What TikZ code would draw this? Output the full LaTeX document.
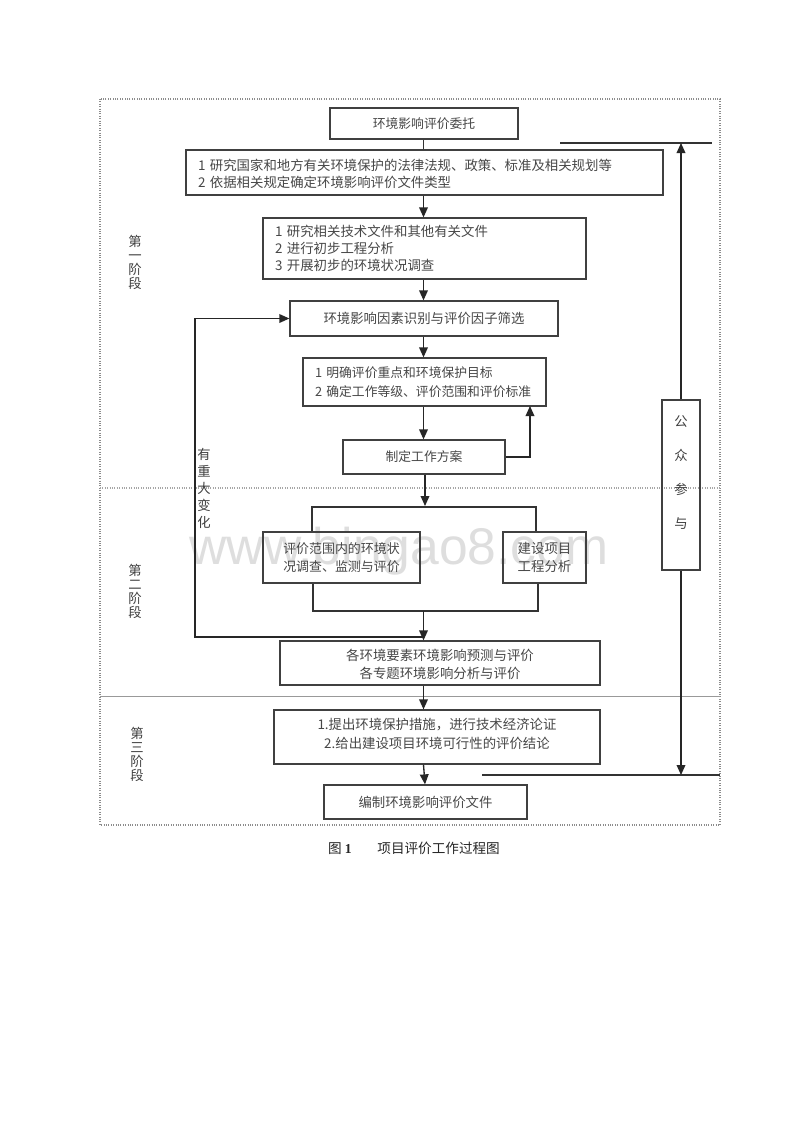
\documentclass[tikz,border=0pt]{standalone}
\usepackage{fontspec}
\setmainfont{Noto Sans CJK SC}
\newfontfamily\wmfont{Liberation Sans}
\newfontfamily\capfont{Liberation Serif}
\usetikzlibrary{arrows.meta,calc}
\newcommand{\dnstrut}[1]{\rule{0pt}{#1}}
\newcommand{\upstrut}[1]{\rule[-#1]{0pt}{#1}}
\tikzset{
  ink/.style={draw=black!75,line width=0.95pt},
  bx/.style={ink,fill=none,inner sep=0pt,align=center,text=black!72,font=\fontsize{10.05}{12.75}\selectfont},
  lbx/.style={bx,align=left,inner xsep=9pt},
  arr/.style={draw=black!85,line width=1pt,-{Triangle[length=7.5pt,width=6.5pt]}},
  lin/.style={draw=black!80,line width=1pt},
  frame/.style={draw=black!45,line width=0.8pt,densely dotted},
  vtext/.style={align=center,text=black!75,inner sep=0pt,font=\fontsize{10}{10.5}\selectfont},
}
\begin{document}
\begin{tikzpicture}[x=0.75pt,y=-0.75pt]
\useasboundingbox (0,0) rectangle (800,1132);
\fill[white] (0,0) rectangle (800,1132);
% watermark
\node[text=black!13,font=\wmfont\fontsize{38.7}{40}\selectfont,inner sep=0pt] (wm) at (399,551) {www.bingao8.com};
% frame
\coordinate (fTL) at (100,99); \coordinate (fBR) at (720,825);
\draw[frame] (fTL) rectangle (fBR);
\draw[frame,draw=black!35] (100,488) -- (720,488);
\draw[draw=black!40,line width=0.7pt] (100,696) -- (720,696);
% boxes
\node[bx,minimum width=141pt,minimum height=23.25pt,font=\fontsize{9.6}{12.75}\selectfont] (b1) at (424,123.5) {环境影响评价委托};
\node[lbx,text width=339.75pt,minimum height=33.75pt] (b2) at (424.5,172.5) {\dnstrut{11pt}1 研究国家和地方有关环境保护的法律法规、政策、标准及相关规划等\\2 依据相关规定确定环境影响评价文件类型};
\node[lbx,text width=224.25pt,minimum height=45.75pt,font=\fontsize{10.05}{13}\selectfont] (b3) at (424.5,248.5) {1 研究相关技术文件和其他有关文件\\2 进行初步工程分析\\3 开展初步的环境状况调查};
\node[bx,minimum width=201pt,minimum height=26.25pt] (b4) at (424,318.5) {环境影响因素识别与评价因子筛选};
\node[lbx,text width=164.25pt,minimum height=36pt,font=\fontsize{9.6}{14}\selectfont] (b5) at (424.5,382) {1 明确评价重点和环境保护目标\\2 确定工作等级、评价范围和评价标准};
\node[bx,minimum width=121.5pt,minimum height=25.5pt,font=\fontsize{9.6}{12.75}\selectfont] (b6) at (424,457) {制定工作方案};
\node[bx,minimum width=117.75pt,minimum height=38.25pt,font=\fontsize{9.7}{13.5}\selectfont] (b7) at (341.5,557.5) {评价范围内的环境状\\况调查、监测与评价};
\node[bx,minimum width=62.25pt,minimum height=38.25pt,font=\fontsize{10.05}{13.5}\selectfont] (b8) at (544.5,557.5) {建设项目\\工程分析};
\node[bx,minimum width=240pt,minimum height=33pt,font=\fontsize{10.05}{13.5}\selectfont] (b9) at (440,663) {\dnstrut{11pt}各环境要素环境影响预测与评价\\各专题环境影响分析与评价};
\node[bx,minimum width=244.5pt,minimum height=40.5pt,font=\fontsize{10.05}{14}\selectfont] (b10) at (437,737) {1.提出环境保护措施，进行技术经济论证\\2.给出建设项目环境可行性的评价结论\upstrut{6pt}};
\node[bx,minimum width=152.25pt,minimum height=25.5pt] (b11) at (425.5,802) {编制环境影响评价文件};
\node[ink,minimum width=28.5pt,minimum height=127.5pt,inner sep=0pt] (pub) at (681,485) {};
% vertical labels
\node[vtext] (s1) at (135,262) {第\\一\\阶\\段};
\node[vtext] (s2) at (135,591) {第\\二\\阶\\段};
\node[vtext] (s3) at (137,754) {第\\三\\阶\\段};
\node[vtext,font=\fontsize{10}{12.75}\selectfont] (chg) at (204,488) {有\\重\\大\\变\\化};
\node[vtext,font=\fontsize{10}{25.5}\selectfont,yshift=9.5pt] (pubt) at (pub.center) {公\\众\\参\\与};
% caption
\node[inner sep=0pt,text=black!85,font=\fontsize{10.2}{12}\selectfont] (cap) at (414,848) {图 {\capfont\bfseries 1}\hspace{1.9em}项目评价工作过程图};
% helper coordinates
\coordinate (m) at (423.5,0);
\coordinate (topL) at (560,143); \coordinate (topR) at (712,143);
\coordinate (botL) at (482,775); \coordinate (botR) at (720,775);
\coordinate (up) at (530,406);
\coordinate (busA) at (312,507); \coordinate (busB) at (536,507);
\coordinate (joinA) at (313,611); \coordinate (joinB) at (538,611);
\coordinate (back) at (195,637);
% connectors
\draw[lin] (b1.south -| m) -- (b2.north -| m);
\draw[arr] (b2.south -| m) -- (b3.north -| m);
\draw[arr] (b3.south -| m) -- (b4.north -| m);
\draw[arr] (b4.south -| m) -- (b5.north -| m);
\draw[arr] (b5.south -| m) -- (b6.north -| m);
\draw[arr] (b6.east) -| (up);
\draw[arr] ($(b6.south -| m)+(1.5,0)$) -- ($(busA -| m)+(1.5,-1)$);
\draw[lin] (busA |- b7.north) |- (busB) -- (busB |- b8.north);
\draw[lin] (joinA |- b7.south) |- (joinB) -- (joinB |- b8.south);
\draw[arr] (joinA -| m) -- (b9.north -| m);
\draw[arr] (b9.south -| m) -- (b10.north -| m);
\draw[arr] (b10.south -| m) -- ($(b11.north -| m)+(1.5,0)$);
\draw[arr] (back -| m) -- (back) |- (b4.west);
\draw[lin] (topL) -- (topR);
\draw[lin] (botL) -- (botR);
\draw[arr] (pub.north) -- (pub.north |- topL);
\draw[arr] (pub.south) -- (pub.south |- botL);
\end{tikzpicture}
\end{document}
